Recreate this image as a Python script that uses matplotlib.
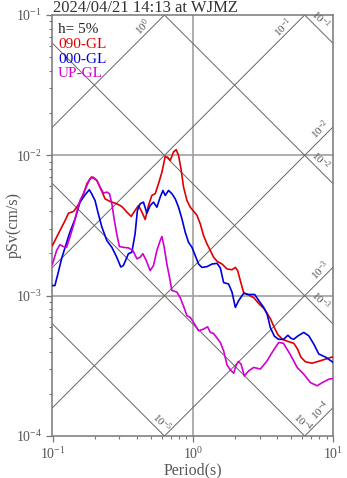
import numpy as np
import matplotlib
matplotlib.use("Agg")
import matplotlib.pyplot as plt
from matplotlib.ticker import LogLocator, NullFormatter

plt.rcParams["font.family"] = ["Liberation Serif", "DejaVu Serif"]
plt.rcParams["mathtext.fontset"] = "custom"
plt.rcParams["mathtext.rm"] = "Liberation Serif"
plt.rcParams["mathtext.it"] = "Liberation Serif:italic"

# ── spectra (period s, pSv cm/s) ─────────────────────────────────────────

RED_T = [0.100, 0.107, 0.113, 0.123, 0.130, 0.141, 0.149, 0.162, 0.176, 0.190,
         0.207, 0.218, 0.237, 0.257, 0.287, 0.312, 0.339, 0.364, 0.388, 0.410,
         0.434, 0.458, 0.483, 0.511, 0.540, 0.570, 0.603, 0.636, 0.663, 0.691,
         0.729, 0.762, 0.792, 0.824, 0.860, 0.909, 0.960, 1.013, 1.072, 1.131,
         1.194, 1.263, 1.334, 1.408, 1.489, 1.617, 1.755, 1.905, 2.012, 2.089,
         2.184, 2.307, 2.504, 2.719, 2.961, 3.241, 3.577, 3.820, 4.047, 4.358,
         4.732, 5.248, 5.577, 5.907, 6.364, 7.100, 7.917, 8.840, 10.0]
RED_SV = [0.00228, 0.00261, 0.00291, 0.00343, 0.00387, 0.00398, 0.00427, 0.00490,
          0.00628, 0.00702, 0.00663, 0.00594, 0.00490, 0.00469, 0.00452, 0.00432,
          0.00394, 0.00367, 0.00405, 0.00439, 0.00394, 0.00349, 0.00439, 0.00518,
          0.00533, 0.00628, 0.00760, 0.00980, 0.00968, 0.00921, 0.01056, 0.01098,
          0.01000, 0.00804, 0.00594, 0.00477, 0.00427, 0.00400, 0.00373, 0.00325,
          0.00268, 0.00234, 0.00210, 0.00188, 0.00176, 0.00168, 0.00155, 0.00153,
          0.00159, 0.00151, 0.00128, 0.00105, 0.00101, 0.000968, 0.000877, 0.000804,
          0.000685, 0.000591, 0.000527, 0.000489, 0.000473, 0.000458, 0.000418,
          0.000364, 0.000338, 0.000330, 0.000341, 0.000353, 0.000367]

BLUE_T = [0.100, 0.104, 0.110, 0.116, 0.123, 0.133, 0.145, 0.157, 0.171, 0.183,
          0.190, 0.201, 0.212, 0.225, 0.244, 0.265, 0.287, 0.307, 0.320, 0.348,
          0.368, 0.388, 0.403, 0.422, 0.445, 0.471, 0.497, 0.525, 0.555, 0.586,
          0.613, 0.636, 0.672, 0.710, 0.750, 0.792, 0.837, 0.884, 0.933, 0.987,
          1.042, 1.100, 1.163, 1.263, 1.371, 1.489, 1.572, 1.660, 1.802, 1.905,
          2.012, 2.124, 2.307, 2.504, 2.763, 2.961, 3.204, 3.388, 3.577, 3.820,
          4.080, 4.430, 4.771, 5.012, 5.248, 5.642, 6.185, 6.716, 7.293, 7.917,
          8.840, 10.0]
BLUE_SV = [0.00118, 0.00118, 0.00147, 0.00183, 0.00221, 0.00283, 0.00353, 0.00464,
           0.00524, 0.00569, 0.00533, 0.00477, 0.00384, 0.00308, 0.00247, 0.00221,
           0.00188, 0.00160, 0.00164, 0.00199, 0.00204, 0.00276, 0.00405, 0.00452,
           0.00464, 0.00387, 0.00439, 0.00464, 0.00427, 0.00504, 0.00562, 0.00518,
           0.00562, 0.00533, 0.00490, 0.00427, 0.00353, 0.00283, 0.00240, 0.00221,
           0.00193, 0.00168, 0.00159, 0.00161, 0.00168, 0.00170, 0.00158, 0.00124,
           0.00121, 0.00106, 0.000825, 0.000921, 0.00104, 0.00102, 0.00102, 0.000921,
           0.000825, 0.000740, 0.000591, 0.000514, 0.000489, 0.000488, 0.000522,
           0.000497, 0.000489, 0.000518, 0.000547, 0.000518, 0.000452, 0.000384,
           0.000365, 0.000335]

MAG_T = [0.100, 0.107, 0.113, 0.119, 0.126, 0.133, 0.141, 0.149, 0.157, 0.166,
         0.176, 0.185, 0.196, 0.207, 0.218, 0.231, 0.244, 0.255, 0.265, 0.275,
         0.287, 0.300, 0.320, 0.348, 0.374, 0.400, 0.422, 0.441, 0.466, 0.497,
         0.525, 0.555, 0.586, 0.603, 0.626, 0.654, 0.683, 0.710, 0.771, 0.814,
         0.862, 0.909, 0.960, 1.013, 1.100, 1.194, 1.276, 1.334, 1.408, 1.572,
         1.660, 1.755, 1.853, 1.960, 2.030, 2.113, 2.210, 2.333, 2.504, 2.719,
         3.034, 3.388, 3.679, 4.100, 4.430, 4.972, 5.550, 6.185, 6.908, 7.711,
         8.373, 9.333, 10.0]
MAG_SV = [0.00168, 0.00210, 0.00231, 0.00224, 0.00221, 0.00261, 0.00316, 0.00394,
          0.00477, 0.00533, 0.00610, 0.00682, 0.00698, 0.00663, 0.00594, 0.00538,
          0.00547, 0.00533, 0.00452, 0.00353, 0.00276, 0.00224, 0.00221, 0.00219,
          0.00210, 0.00183, 0.00188, 0.00199, 0.00178, 0.00151, 0.00164, 0.00210,
          0.00247, 0.00264, 0.00221, 0.00168, 0.00135, 0.00109, 0.00106, 0.000968,
          0.000835, 0.000720, 0.000700, 0.000645, 0.000562, 0.000578, 0.000600,
          0.000547, 0.000538, 0.000464, 0.000405, 0.000321, 0.000296, 0.000280,
          0.000316, 0.000340, 0.000325, 0.000268, 0.000291, 0.000308, 0.000300,
          0.000343, 0.000394, 0.000464, 0.000458, 0.000379, 0.000308, 0.000276,
          0.000240, 0.000228, 0.000240, 0.000254, 0.000257]

SERIES = [("090-GL", RED_T, RED_SV, "#dd0000"),
          ("000-GL", BLUE_T, BLUE_SV, "#0000dd"),
          ("UP-GL", MAG_T, MAG_SV, "#d000d0")]

# tripartite grid: pseudo-acceleration (cm/s^2) and displacement (cm)
ACC_LEVELS = [1e0, 1e-1, 1e-2, 1e-3, 1e-4]
ACC_LABEL_T = [0.475, 4.75, 8.85, 8.85, 8.85]
ACC_LABELS = [r"$10^{0}$", r"$10^{-1}$", r"$10^{-2}$", r"$10^{-3}$", r"$10^{-4}$"]
DISP_LEVELS = [1e-1, 1e-2, 1e-3, 1e-4, 1e-5]
DISP_LABEL_T = [7.44, 7.44, 7.44, 5.51, 0.551]
DISP_LABELS = [r"$10^{-1}$", r"$10^{-2}$", r"$10^{-3}$", r"$10^{-4}$", r"$10^{-5}$"]

TITLE = "2024/04/21 14:13 at WJMZ"
DAMPING = "h= 5%"

GRAY = "#666666"
TXT = "#555555"

fig = plt.figure(figsize=(3.47, 4.78), dpi=100)
ax = fig.add_axes([52.5 / 347, 42 / 478, 280.5 / 347, 421 / 478])
ax.set_xscale("log")
ax.set_yscale("log")
ax.set_xlim(0.1, 10)
ax.set_ylim(1e-4, 1e-1)

# plain grid lines
for yv in (1e-2, 1e-3):
    ax.axhline(yv, color="#999999", lw=1.1, zorder=1)
ax.axvline(1.0, color="#999999", lw=1.1, zorder=1)

# diagonal lines
tt = np.logspace(-1, 1, 200)
for a, tl, lab in zip(ACC_LEVELS, ACC_LABEL_T, ACC_LABELS):
    ax.plot(tt, a * tt / (2 * np.pi), color=GRAY, lw=0.7, zorder=1)
    ax.annotate(lab, xy=(tl, a * tl / (2 * np.pi)), xytext=(-3.5, 3.5),
                textcoords="offset points", rotation=45, ha="center",
                va="center", fontsize=8, color=TXT, rotation_mode="anchor")
for d, tl, lab in zip(DISP_LEVELS, DISP_LABEL_T, DISP_LABELS):
    ax.plot(tt, 2 * np.pi * d / tt, color=GRAY, lw=0.7, zorder=1)
    ax.annotate(lab, xy=(tl, 2 * np.pi * d / tl), xytext=(4, 4),
                textcoords="offset points", rotation=-45, ha="center",
                va="center", fontsize=8, color=TXT, rotation_mode="anchor")

for name, t, sv, c in SERIES:
    ax.plot(t, sv, color=c, lw=1.2, zorder=3)

# legend text
ax.text(0.02, 0.957, DAMPING, transform=ax.transAxes, fontsize=11,
        color="#222222", va="baseline")
for i, (name, t, sv, c) in enumerate(SERIES):
    ax.text(0.02, 0.922 - i * 0.035, name, transform=ax.transAxes,
            fontsize=11, color=c, va="baseline")

for sp in ax.spines.values():
    sp.set_color("#777777")
    sp.set_linewidth(1.1)

ax.xaxis.set_minor_locator(LogLocator(base=10, subs=np.arange(2, 10)))
ax.yaxis.set_minor_locator(LogLocator(base=10, subs=np.arange(2, 10)))
ax.xaxis.set_minor_formatter(NullFormatter())
ax.yaxis.set_minor_formatter(NullFormatter())
ax.tick_params(which="major", length=4.5, width=0.9, color="#777777",
               labelsize=10, labelcolor=TXT, pad=3)
ax.tick_params(which="minor", length=2.5, width=0.8, color="#777777")

fig.text(53 / 347, 1 - 12 / 478, TITLE, fontsize=12, color="#333333",
         va="baseline", ha="left")
fig.text(193 / 347, 1 - 474 / 478, "Period(s)", fontsize=11.5, color=TXT,
         va="baseline", ha="center")
fig.text(14 / 347, 1 - 225 / 478, "pSv(cm/s)", fontsize=11.5, color=TXT,
         va="center", ha="center", rotation=90)

fig.savefig("out.png", dpi=100, facecolor="white")
